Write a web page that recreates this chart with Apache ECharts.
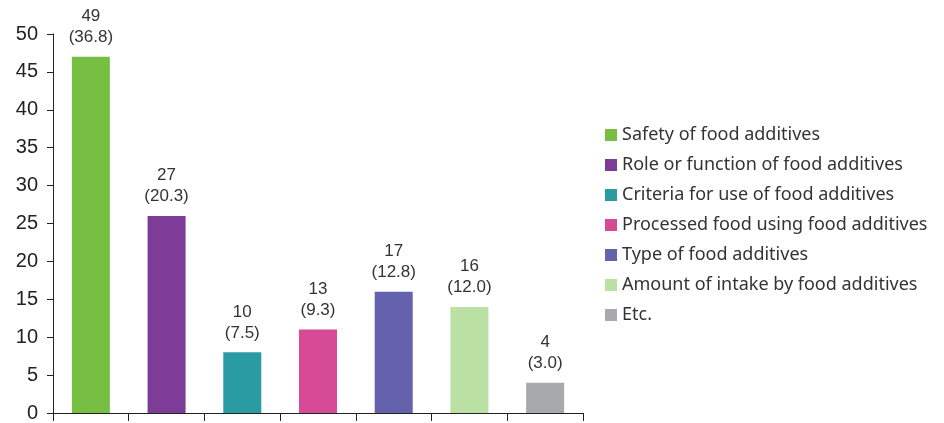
<!DOCTYPE html>
<html>
<head>
<meta charset="utf-8">
<script src="https://cdn.jsdelivr.net/npm/echarts@6/dist/echarts.min.js"></script>
<style>
  html, body { margin: 0; padding: 0; background: #fff; }
  #chart { width: 944px; height: 423px; }
</style>
</head>
<body>
<div id="chart"></div>
<script>
// categories, legend order
let categories = [
	'Safety of food additives',
	'Role or function of food additives',
	'Criteria for use of food additives',
	'Processed food using food additives',
	'Type of food additives',
	'Amount of intake by food additives',
	'Etc.'
];
// bar heights as drawn in the picture
let barValues = [47, 26, 8, 11, 16, 14, 4];
// printed labels: count and (percent)
let counts = [49, 27, 10, 13, 17, 16, 4];
let percents = ['36.8', '20.3', '7.5', '9.3', '12.8', '12.0', '3.0'];
let colors = ['#77bf43', '#7d3c97', '#2a9ba3', '#d64a96', '#6461ad', '#bbe0a3', '#a7a9ac'];
let yTicks = [0, 5, 10, 15, 20, 25, 30, 35, 40, 45, 50];

let myChart = echarts.init(document.getElementById('chart'));

let seriesList = categories.map(function (name, i) {
	let data = categories.map(function (c, j) {
		return j === i ? barValues[i] : '-';
	});
	return {
		name: name,
		type: 'bar',
		stack: 'all',
		barWidth: 38,
		data: data,
		itemStyle: { color: colors[i] },
		label: {
			show: true,
			position: 'top',
			distance: 9,
			color: '#333',
			fontFamily: 'Liberation Sans',
			fontSize: 17,
			lineHeight: 21,
			align: 'center',
			formatter: function () {
				return counts[i] + '\n(' + percents[i] + ')';
			}
		},
		emphasis: { disabled: true }
	};
});

let option = {
	animation: false,
	grid: { left: 53, right: 361, top: 34, bottom: 9 },
	legend: {
		orient: 'vertical',
		left: 600,
		top: 121,
		itemWidth: 12,
		itemHeight: 12,
		itemGap: 12,
		icon: 'rect',
		textStyle: { color: '#333', fontFamily: 'Noto Sans', fontSize: 18 },
		data: categories
	},
	xAxis: {
		type: 'category',
		data: categories,
		axisLine: { lineStyle: { color: '#222', width: 1 } },
		axisTick: { show: true, interval: 0, length: 8, inside: false, lineStyle: { color: '#222' } },
		axisLabel: { show: false, interval: 0 }
	},
	yAxis: {
		type: 'value',
		min: yTicks[0],
		max: yTicks[yTicks.length - 1],
		interval: 5,
		axisLine: { show: true, lineStyle: { color: '#222', width: 1 } },
		axisTick: { show: true, length: 6, lineStyle: { color: '#222' } },
		splitLine: { show: false },
		axisLabel: { color: '#222', fontFamily: 'Liberation Sans', fontSize: 20, margin: 15 }
	},
	series: seriesList
};

myChart.setOption(option);
</script>
</body>
</html>
